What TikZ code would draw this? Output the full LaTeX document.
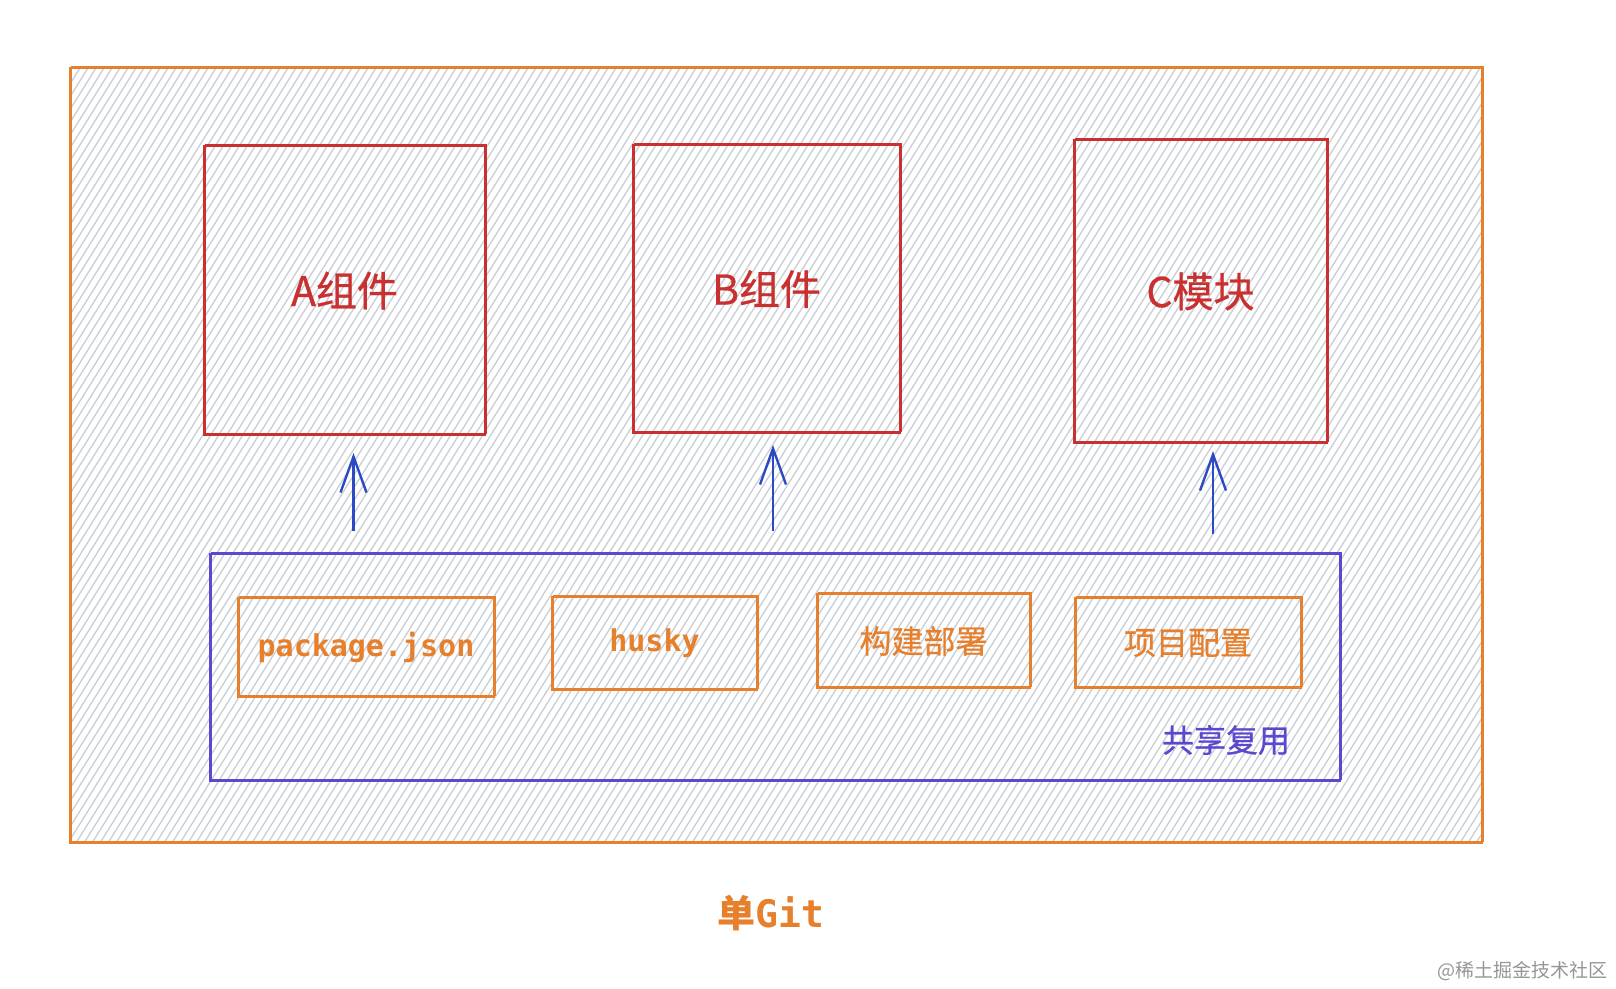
\documentclass[tikz,border=0pt]{standalone}
\usepackage{fontspec}
\usepackage{xcolor}
\usepackage{tikz}
\usetikzlibrary{arrows.meta,calc}
\newfontfamily\cjk{Noto Sans CJK SC}
\newfontfamily\cjkmed[FakeBold=0.7]{Noto Sans CJK SC}
\newfontfamily\codefont{DejaVu Sans Mono}
\definecolor{gitorange}{RGB}{230,128,44}
\definecolor{comred}{RGB}{201,48,48}
\definecolor{shareviolet}{RGB}{92,72,206}
\definecolor{arrblue}{RGB}{44,74,196}
\definecolor{hatch}{RGB}{200,206,214}
\definecolor{mark}{RGB}{150,150,150}
\tikzset{
  sketch/.style={draw,inner sep=0pt,outer sep=0pt,line width=2.2pt,
    postaction={draw,line width=0.8pt,transform canvas={shift={(1.2pt,1.2pt)}}}},
  combox/.style={sketch,draw=comred,text=comred,font=\cjkmed\fontsize{41}{42}\selectfont},
  toolbox/.style={sketch,draw=gitorange,text=gitorange,font=\cjkmed\fontsize{32}{34}\selectfont},
  codebox/.style={toolbox,font=\codefont\bfseries\fontsize{30}{32}\selectfont},
  arr/.style={arrblue,line width=2.8pt,-{Straight Barb[length=36pt,width=26pt,line width=2.4pt]}},
}

\begin{document}
\begin{tikzpicture}[x=1pt,y=-1pt]
  \useasboundingbox[fill=white] (0,0) rectangle (1616,988);
  % hachure fill of the repo
  \begin{scope}
    \clip (70,68) rectangle (1482,843);
    \foreach \x in {-420,-412,...,1482}{ \draw[hatch,line width=1.3pt] (\x,843) -- (\x+484,68); }
  \end{scope}
  \node[sketch,draw=gitorange,minimum width=1412pt,minimum height=775pt] (repo) at (776,455.5) {};

  \node[combox,minimum width=281pt,minimum height=289pt] (compA) at (344.5,290.5) {A组件};
  \node[combox,minimum width=267pt,minimum height=288pt] (compB) at (766.5,289) {B组件};
  \node[combox,minimum width=253pt,minimum height=303pt] (compC) at (1200.5,291.5) {C模块};

  \node[sketch,draw=shareviolet,minimum width=1130pt,minimum height=227pt] (shared) at (775,667.5) {};
  \node[codebox,minimum width=256pt,minimum height=99pt] (pkg) at (366,647.5) {package.json};
  \node[codebox,minimum width=205pt,minimum height=93pt] (husky) at (654.5,643.5) {husky};
  \node[toolbox,minimum width=213pt,minimum height=94pt] (build) at (923.5,641) {构建部署};
  \node[toolbox,minimum width=226pt,minimum height=90pt] (config) at (1188,643) {项目配置};
  \node[text=shareviolet,font=\cjkmed\fontsize{32}{34}\selectfont] (sharetxt) at (1226,740) {共享复用};

  \draw[arr] ([xshift=9pt,yshift=23pt]shared.north -| compA.south) -- ([xshift=9pt,yshift=-18pt]compA.south);
  \draw[arr] ([xshift=6.5pt,yshift=23pt]shared.north -| compB.south) -- ([xshift=6.5pt,yshift=-12pt]compB.south);
  \draw[arr] ([xshift=12.5pt,yshift=20pt]shared.north -| compC.south) -- ([xshift=12.5pt,yshift=-8pt]compC.south);

  \node[text=gitorange,font=\fontsize{38}{40}\selectfont] (title) at (771,913) {{\cjk\bfseries 单}{\codefont\bfseries Git}};
  \node[text=mark,anchor=east,font=\cjk\fontsize{19}{20}\selectfont] (wm) at (1611,971) {@稀土掘金技术社区};
\end{tikzpicture}
\end{document}
